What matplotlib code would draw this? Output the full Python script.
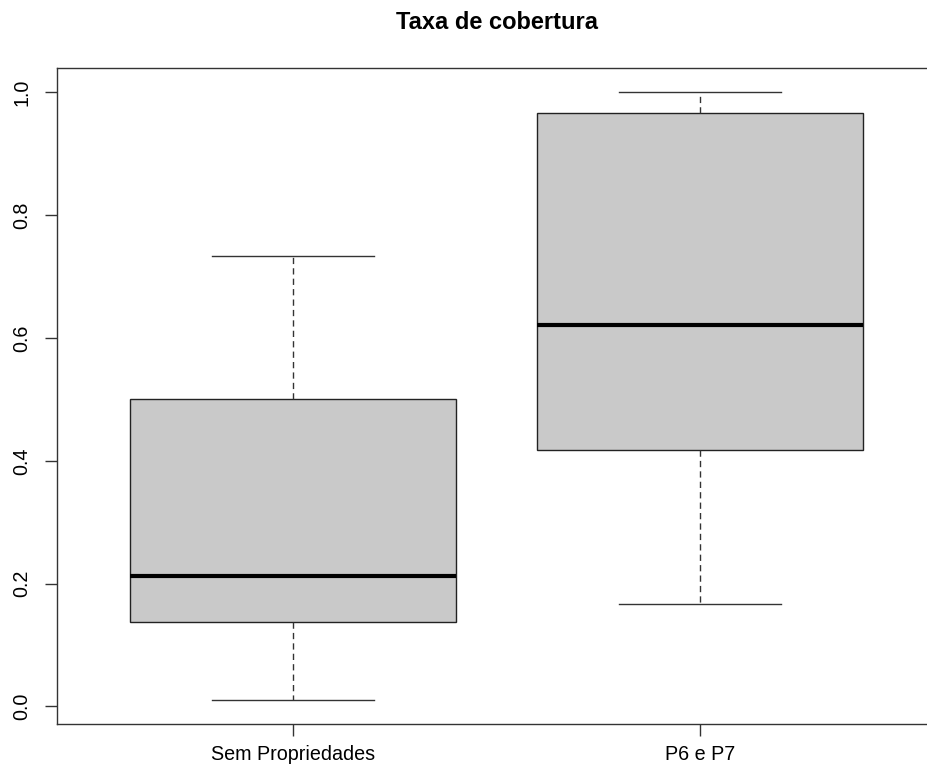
import matplotlib
matplotlib.use("Agg")
import matplotlib.pyplot as plt

categories = ["Sem Propriedades", "P6 e P7"]
whislo = [0.011, 0.167]
q1 = [0.138, 0.417]
med = [0.213, 0.621]
q3 = [0.500, 0.967]
whishi = [0.733, 1.000]
yticks = [0.0, 0.2, 0.4, 0.6, 0.8, 1.0]
ytick_labels = ["0.0", "0.2", "0.4", "0.6", "0.8", "1.0"]
title = "Taxa de cobertura"

plt.rcParams['font.family'] = ['Liberation Sans', 'DejaVu Sans']

W, H = 927, 771
fig = plt.figure(figsize=(W / 100, H / 100), dpi=100)
ax = fig.add_axes([57 / W, 1 - 724 / H, (936 - 57) / W, (724 - 68) / H])

stats = []
for i, c in enumerate(categories):
    stats.append(dict(label=c, whislo=whislo[i], q1=q1[i], med=med[i],
                      q3=q3[i], whishi=whishi[i], fliers=[]))

ax.bxp(stats, positions=[1, 2], widths=0.8, patch_artist=True,
       showfliers=False,
       boxprops=dict(facecolor="#c9c9c9", edgecolor="#222222", linewidth=1.0),
       medianprops=dict(color="black", linewidth=3.0, solid_capstyle="butt"),
       whiskerprops=dict(color="#333333", linewidth=1.0, linestyle=(0, (4.5, 3))),
       capprops=dict(color="#333333", linewidth=1.0),
       capwidths=0.4)

ax.set_xlim(0.42, 2.58)
ax.set_ylim(-0.0286, 1.0396)
ax.set_xticks([1, 2])
ax.set_xticklabels(categories)
ax.set_yticks(yticks)
ax.set_yticklabels(ytick_labels, rotation=90, va="center")

for s in ax.spines.values():
    s.set_color("#333333")
    s.set_linewidth(1.0)

ax.tick_params(axis="both", direction="out", length=8.6, width=1.0,
               color="#333333", labelsize=14.2, labelcolor="black")
ax.tick_params(axis="x", pad=6.5)
ax.tick_params(axis="y", pad=10)

fig.text(496.5 / W, 1 - 29 / H, title, ha="center", va="baseline",
         fontsize=17, fontweight="bold")

fig.savefig("out.png", dpi=100)
